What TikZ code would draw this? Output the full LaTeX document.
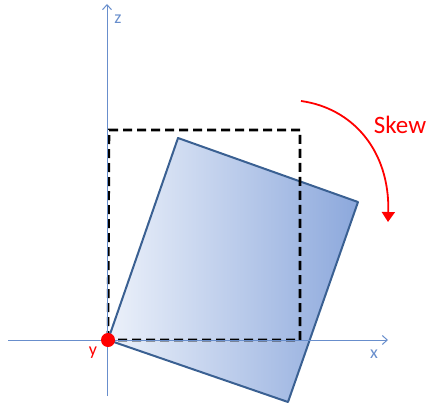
\documentclass[tikz,border=0pt]{standalone}
\usepackage{fontspec}
\setmainfont{Carlito}
\usetikzlibrary{arrows.meta}
\definecolor{axisblue}{RGB}{104,142,204}
\definecolor{edgeblue}{RGB}{58,96,146}
\definecolor{lightblue}{RGB}{236,241,250}
\definecolor{darkblue}{RGB}{140,168,220}

\begin{document}
\begin{tikzpicture}[x=1pt, y=-1pt, every node/.style={font=\fontsize{18}{20}\selectfont}]
\useasboundingbox (0,0) rectangle (430,406);
% corners of the skewed square
\coordinate (o) at (108,340);
\coordinate (a) at (178,138);
\coordinate (b) at (358,202);
\coordinate (c) at (288,402);
\fill[left color=lightblue, right color=darkblue] (o) -- (a) -- (b) -- (c) -- cycle;
\draw[edgeblue, line width=2pt, line join=round] (o) -- (a) -- (b) -- (c) -- cycle;

% original square
\coordinate (p) at (109,130);
\coordinate (q) at (300,130);
\coordinate (r) at (300,340);
\draw[line width=2.6pt, dash pattern=on 9pt off 5pt] (o) -- (p) -- (q) -- (r) -- cycle;

% axes
\coordinate (xs) at (8,340);
\coordinate (xe) at (388,340);
\coordinate (zs) at (107,396);
\coordinate (ze) at (107,4);
\draw[axisblue, line width=1pt, -{Straight Barb[length=5pt,width=9pt]}] (xs) -- (xe);
\draw[axisblue, line width=1pt, -{Straight Barb[length=5pt,width=9pt]}] (zs) -- (ze);
\node[axisblue] (xlabel) at (374,354) {x};
\node[axisblue] (zlabel) at (118,19) {z};
\node[red] (ylabel) at (93,353) {y};
\node[circle, fill=red, minimum size=14pt, inner sep=0pt] (dot) at (o) {};

% skew arrow
\coordinate (s1) at (301,101);
\coordinate (s2) at (388,222);
\draw[red, line width=1.8pt, -{Triangle[length=10pt,width=13pt]}] (s1) .. controls (352,108) and (390,150) .. (s2);
\node[red, font=\fontsize{25}{28}\selectfont] (skew) at (400,125) {Skew};
\end{tikzpicture}
\end{document}
